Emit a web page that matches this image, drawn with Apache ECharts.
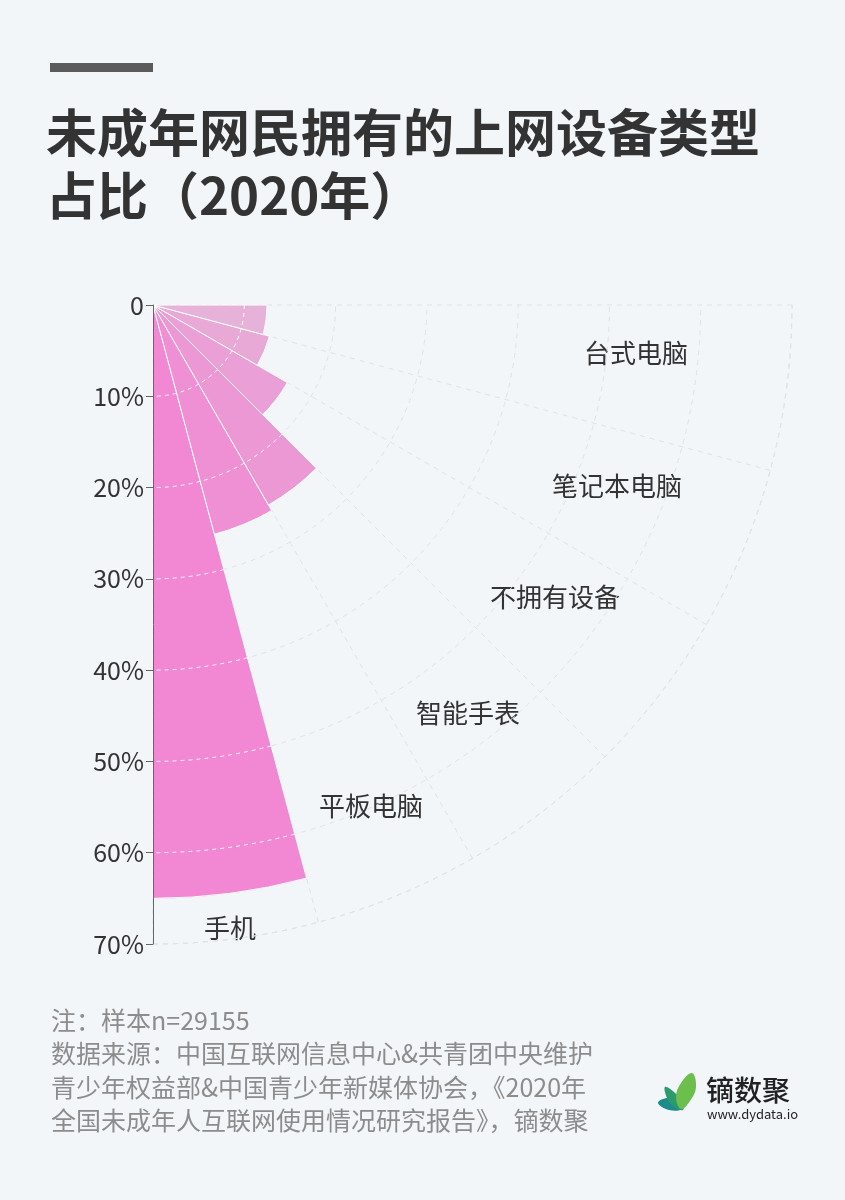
<!DOCTYPE html>
<html>
<head>
<meta charset="utf-8">
<script src="https://cdn.jsdelivr.net/npm/echarts@6/dist/echarts.min.js"></script>
<style>
html,body{margin:0;padding:0;background:#f3f6f9;}
#c{width:845px;height:1200px;}
</style>
</head>
<body>
<div id="c"></div>
<script>
// ---------- data ----------
const categories = ['手机', '平板电脑', '智能手表', '不拥有设备', '笔记本电脑', '台式电脑'];
const values = [65.0, 26.0, 25.3, 17.0, 13.2, 12.5];
const radiusTicks = [0, 10, 20, 30, 40, 50, 60, 70];
const titleLines = ['未成年网民拥有的上网设备类型', '占比（2020年）'];
const footLines = [
  '注：样本n=29155',
  '数据来源：中国互联网信息中心&共青团中央维护',
  '青少年权益部&中国青少年新媒体协会，《2020年',
  '全国未成年人互联网使用情况研究报告》，镝数聚'
];

// ---------- style / layout ----------
const FONT = '"Noto Sans CJK SC", "Noto Sans", sans-serif';
const barColors = ['#f287d4', '#ef8fd4', '#ec98d5', '#eaa0d6', '#e8a9d7', '#e7b2d9'];
const CX = 153, CY = 305, R = 639;
const gridColor = '#dde3e9';
// category label centres, px offset from polar centre
const labelOffsets = [[77, 623], [218, 501], [315, 408], [402, 292], [464, 181], [483, 48]];

const chart = echarts.init(document.getElementById('c'), null, {renderer: 'canvas'});

// white dashed grid arcs drawn over the bars (inside each bar only)
function renderInnerGrid(params, api) {
  const v = api.value(0);
  const idx = api.value(1);
  const cs = params.coordSys;
  const band = api.size([0, 1])[1];
  const children = [];
  radiusTicks.forEach(function (t) {
    if (t <= 0 || t >= v) return;
    const p = api.coord([t, idx]);
    const r = p[2], a = -p[3];
    children.push({
      type: 'arc',
      shape: {cx: cs.cx, cy: cs.cy, r: r, startAngle: a - band / 2, endAngle: a + band / 2, clockwise: true},
      style: {stroke: 'rgba(255,255,255,0.95)', fill: null, lineWidth: 1, lineDash: [4, 4]}
    });
  });
  return {type: 'group', children: children};
}

const graphics = [];
graphics.push({type: 'rect', shape: {x: 50, y: 63, width: 103, height: 9}, style: {fill: '#5b5b5b'}});
titleLines.forEach(function (t, i) {
  graphics.push({type: 'text', x: 46, y: 133 + i * 63,
    style: {text: t, fill: '#333333', font: 'bold 51px ' + FONT, verticalAlign: 'middle', align: 'left'}});
});
categories.forEach(function (c, i) {
  graphics.push({type: 'text', x: CX + labelOffsets[i][0], y: CY + labelOffsets[i][1],
    style: {text: c, fill: '#333333', font: '26px ' + FONT, verticalAlign: 'middle', align: 'center'}});
});
footLines.forEach(function (t, i) {
  graphics.push({type: 'text', x: 51, y: 1020 + i * 33.5,
    style: {text: t, fill: '#8c8c8c', font: '25px ' + FONT, verticalAlign: 'middle', align: 'left'}});
});
// logo
graphics.push({type: 'group', x: 655, y: 1068, children: [
  {type: 'polygon', shape: {points: [[3, 35], [12, 30], [22, 33], [27, 41], [14, 42]], smooth: 0.4}, style: {fill: '#1f8a8c'}},
  {type: 'polygon', shape: {points: [[10, 19], [20, 25], [27, 34], [28, 42], [18, 38], [12, 30]], smooth: 0.4}, style: {fill: '#2b9b6d'}},
  {type: 'polygon', shape: {points: [[37, 5], [41, 19], [35, 33], [26, 41], [21, 29], [26, 15]], smooth: 0.4}, style: {fill: '#6cbf4c'}}
]});
graphics.push({type: 'text', x: 706, y: 1090,
  style: {text: '镝数聚', fill: '#222222', font: '500 28px ' + FONT, verticalAlign: 'middle', align: 'left'}});
graphics.push({type: 'text', x: 707, y: 1114,
  style: {text: 'www.dydata.io', fill: '#222222', font: '13px ' + FONT, verticalAlign: 'middle', align: 'left'}});

const hidden = {axisLine: {show: false}, axisTick: {show: false}, axisLabel: {show: false}, splitLine: {show: false}};

const option = {
  backgroundColor: '#f3f6f9',
  animation: false,
  textStyle: {fontFamily: FONT},
  polar: [
    {center: [CX, CY], radius: R},
    {center: [CX, CY], radius: R}
  ],
  angleAxis: [
    {
      polarIndex: 0,
      type: 'category',
      data: categories,
      startAngle: 270,
      endAngle: 360,
      clockwise: false,
      boundaryGap: true,
      axisLine: {show: true, lineStyle: {color: gridColor, type: [5, 5], width: 1}},
      axisTick: {show: false},
      axisLabel: {show: false},
      splitLine: {show: true, lineStyle: {color: gridColor, type: [5, 5], width: 1}},
      z: 0
    },
    Object.assign({
      polarIndex: 1,
      type: 'category',
      data: categories,
      startAngle: 270,
      endAngle: 360,
      clockwise: false,
      boundaryGap: true,
      z: 0
    }, hidden)
  ],
  radiusAxis: [
    Object.assign({
      polarIndex: 0,
      type: 'value',
      min: 0, max: 70, interval: 10,
      z: 1
    }, hidden, {splitLine: {show: true, lineStyle: {color: gridColor, type: [5, 5], width: 1}}}),
    {
      polarIndex: 1,
      type: 'value',
      min: 0, max: 70, interval: 10,
      axisLine: {show: true, lineStyle: {color: '#666666', width: 1}},
      axisTick: {show: true, length: -7, lineStyle: {color: '#666666'}},
      axisLabel: {color: '#333333', fontSize: 25, fontFamily: FONT, margin: -9, align: 'right',
        formatter: function (v) { return v === 0 ? '0' : v + '%'; }},
      splitLine: {show: false},
      z: 5
    }
  ],
  series: [
    {
      type: 'bar',
      coordinateSystem: 'polar',
      polarIndex: 0,
      data: values.map(function (v, i) { return {value: v, itemStyle: {color: barColors[i]}}; }),
      barCategoryGap: '0%',
      itemStyle: {borderColor: '#ffffff', borderWidth: 1},
      z: 2,
      silent: true
    },
    {
      type: 'custom',
      coordinateSystem: 'polar',
      polarIndex: 0,
      data: values.map(function (v, i) { return [v, i]; }),
      encode: {radius: 0, angle: 1},
      renderItem: renderInnerGrid,
      z: 3,
      silent: true
    }
  ],
  graphic: graphics
};
chart.setOption(option);
</script>
</body>
</html>
